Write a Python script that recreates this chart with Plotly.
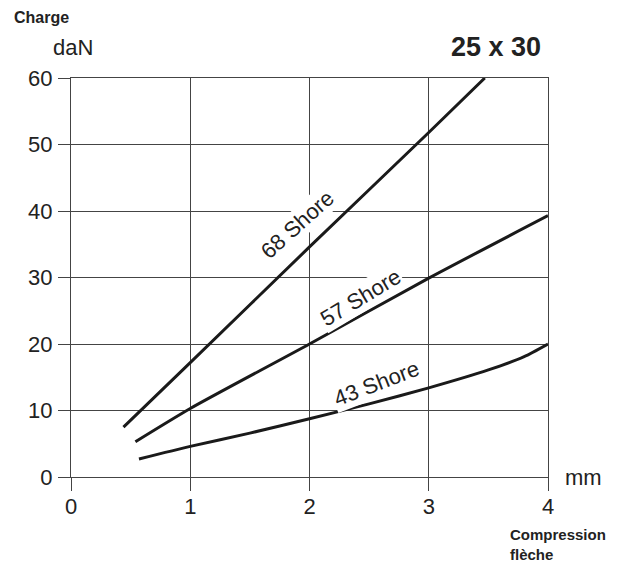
import plotly.graph_objects as go

# Data
x68 = [0.44, 1.0, 2.0, 3.0, 3.47]
y68 = [7.5, 17.2, 34.6, 51.8, 60.0]

x57 = [0.54, 1.0, 2.0, 3.0, 4.0]
y57 = [5.3, 10.3, 20.0, 29.9, 39.3]

x43 = [0.57, 1.0, 1.5, 2.0, 2.5, 3.0, 3.5, 3.8, 4.0]
y43 = [2.7, 4.6, 6.6, 8.75, 11.0, 13.4, 16.1, 18.1, 20.0]

series_names = ["68 Shore", "57 Shore", "43 Shore"]
x_ticks = [0, 1, 2, 3, 4]
y_ticks = [0, 10, 20, 30, 40, 50, 60]

FONT = "Liberation Sans, Arial, sans-serif"
TXT = "#222222"
GRID = "#444444"
CURVE = "#1a1a1a"

fig = go.Figure()
for xs, ys, nm in [(x68, y68, series_names[0]), (x57, y57, series_names[1]), (x43, y43, series_names[2])]:
    fig.add_trace(go.Scatter(x=xs, y=ys, mode="lines", name=nm,
                             line=dict(color=CURVE, width=3, shape="spline", smoothing=0.6),
                             showlegend=False, hoverinfo="skip"))

# curve labels (placed next to the curves, white background masks grid)
label_pos = [(1.90, 37.9, -42), (2.43, 27.0, -31), (2.56, 14.0, -21)]
for nm, (lx, ly, ang) in zip(series_names, label_pos):
    fig.add_annotation(x=lx, y=ly, xref="x", yref="y", text=nm, showarrow=False,
                       textangle=ang, bgcolor="white", borderpad=1,
                       font=dict(family=FONT, size=22, color=TXT))

fig.add_annotation(xref="paper", yref="paper", x=1.032, y=0.0, text="mm",
                   showarrow=False, xanchor="left", yanchor="middle",
                   font=dict(family=FONT, size=22, color=TXT))
fig.add_annotation(xref="paper", yref="paper", x=0.917, y=-0.168,
                   text="<b>Compression</b><br><b>flèche</b>", align="left",
                   showarrow=False, xanchor="left", yanchor="middle",
                   font=dict(family=FONT, size=15, color=TXT))
fig.add_annotation(xref="paper", yref="paper", x=0.005, y=1.076, text="daN",
                   showarrow=False, xanchor="center", yanchor="middle",
                   font=dict(family=FONT, size=22, color=TXT))
fig.add_annotation(xref="paper", yref="paper", x=-0.123, y=1.151, text="<b>Charge</b>",
                   showarrow=False, xanchor="left", yanchor="middle",
                   font=dict(family=FONT, size=16, color=TXT))
fig.add_annotation(xref="paper", yref="paper", x=0.990, y=1.0785, text="<b>25 x 30</b>",
                   showarrow=False, xanchor="right", yanchor="middle",
                   font=dict(family=FONT, size=27, color=TXT))

fig.update_xaxes(range=[0, 4], tickvals=x_ticks, showgrid=True, gridcolor=GRID, gridwidth=1.3,
                 showline=True, linecolor=GRID, linewidth=1.3, mirror=True,
                 ticks="outside", ticklen=13, tickcolor=GRID, tickwidth=1.3,
                 zeroline=False, ticklabelstandoff=-4,
                 tickfont=dict(family=FONT, size=22, color=TXT))
fig.update_yaxes(range=[0, 60], tickvals=y_ticks, showgrid=True, gridcolor=GRID, gridwidth=1.3,
                 showline=True, linecolor=GRID, linewidth=1.3, mirror=True,
                 ticks="outside", ticklen=12, tickcolor=GRID, tickwidth=1.3,
                 zeroline=False, ticklabelstandoff=1,
                 tickfont=dict(family=FONT, size=22, color=TXT))

# the page adds an 8px body margin, so margins are shifted to keep the plot area in place
fig.update_layout(width=625, height=562, margin=dict(l=63, r=85, t=70, b=93),
                  paper_bgcolor="white", plot_bgcolor="white")

fig.write_html("out.html")
